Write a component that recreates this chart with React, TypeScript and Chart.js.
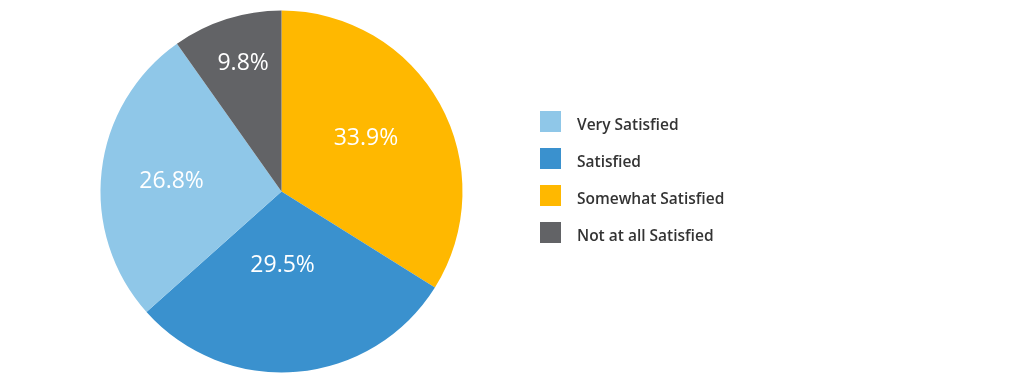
import React, { useEffect, useRef } from "react";
import { Chart, registerables } from "chart.js";

Chart.register(...registerables);

// Slices in drawing order (clockwise from 12 o'clock)
const sliceLabels = ["Somewhat Satisfied", "Satisfied", "Very Satisfied", "Not at all Satisfied"];
const sliceValues = [33.9, 29.5, 26.8, 9.8];
const sliceColors = ["#FFB800", "#3A91CE", "#8FC7E8", "#626366"];

// Legend order
const legendLabels = ["Very Satisfied", "Satisfied", "Somewhat Satisfied", "Not at all Satisfied"];

const labelPlugin = {
  id: "sliceLabels",
  afterDatasetsDraw(chart: any, _args: any, opts: any) {
    const ctx = chart.ctx;
    const meta = chart.getDatasetMeta(0);
    const fractions: number[] = opts.radiusFractions || [];
    const shifts: number[] = opts.angleShifts || [];
    ctx.save();
    ctx.fillStyle = "#ffffff";
    ctx.font = '400 23px "Open Sans"';
    ctx.textAlign = "center";
    ctx.textBaseline = "middle";
    meta.data.forEach((arc: any, i: number) => {
      const p = arc.getProps(["x", "y", "startAngle", "endAngle", "outerRadius"], true);
      const mid = (p.startAngle + p.endAngle) / 2 + ((shifts[i] ?? 0) * Math.PI) / 180;
      const r = p.outerRadius * (fractions[i] ?? 0.6);
      const x = p.x + Math.cos(mid) * r;
      const y = p.y + Math.sin(mid) * r;
      ctx.fillText(sliceValues[i].toFixed(1) + "%", x, y);
    });
    ctx.restore();
  },
};

export default function App() {
  const canvasRef = useRef<HTMLCanvasElement | null>(null);

  useEffect(() => {
    document.body.style.margin = "0";
    const chart = new Chart(canvasRef.current as HTMLCanvasElement, {
      type: "pie",
      data: {
        labels: sliceLabels,
        datasets: [
          {
            data: sliceValues,
            backgroundColor: sliceColors,
            borderWidth: 0,
          },
        ],
      },
      options: {
        animation: false,
        responsive: true,
        maintainAspectRatio: false,
        layout: { padding: { left: 100.5, right: 561.5, top: 10.5, bottom: 11.5 } },
        plugins: {
          legend: { display: false },
          tooltip: { enabled: false },
          sliceLabels: { radiusFractions: [0.55, 0.41, 0.61, 0.74], angleShifts: [-3, 4, -1, 1] },
        } as any,
      },
      plugins: [labelPlugin],
    });
    return () => chart.destroy();
  }, []);

  const colorFor = (name: string) => sliceColors[sliceLabels.indexOf(name)];

  return (
    <div style={{ position: "relative", width: 1024, height: 384, background: "#ffffff", overflow: "hidden" }}>
      <div style={{ position: "absolute", left: 0, top: 0, width: 1024, height: 384 }}>
        <canvas ref={canvasRef} />
      </div>
      <div style={{ position: "absolute", left: 540, top: 111 }}>
        {legendLabels.map((name, i) => (
          <div
            key={name}
            style={{
              position: "absolute",
              left: 0,
              top: i * 37,
              height: 21,
              display: "flex",
              alignItems: "center",
              whiteSpace: "nowrap",
            }}
          >
            <div style={{ width: 21, height: 21, background: colorFor(name) }} />
            <span
              style={{
                marginLeft: 16,
                fontFamily: '"Open Sans", sans-serif',
                fontSize: 15.5,
                fontWeight: 600,
                color: "#333333",
                position: "relative",
                top: 2,
              }}
            >
              {name}
            </span>
          </div>
        ))}
      </div>
    </div>
  );
}
